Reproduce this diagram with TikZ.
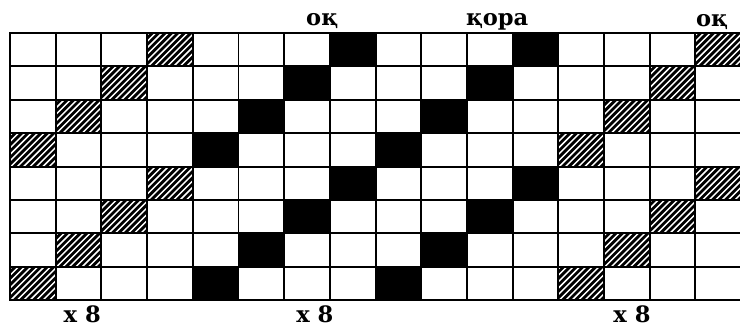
\documentclass[tikz,border=0pt]{standalone}
\usepackage{fontspec}
\setmainfont{DejaVu Serif}
\usetikzlibrary{positioning}

\begin{document}
\begin{tikzpicture}[
    x=1.209cm, y=-0.8837cm,
    font=\fontsize{17}{20}\selectfont\bfseries,
    tor/.style={line width=1.5pt, line cap=rect},
    qara/.style={fill=black},
    jazu/.style={anchor=base, inner sep=0pt}
  ]
    \useasboundingbox (-0.219,-0.988) rectangle (15.974,8.832);
    % kletki: qara and strikh
    \foreach \r in {0,...,7} {
      \pgfmathtruncatemacro{\k}{3-mod(\r,4)}
      \foreach \off in {4,8}
        \fill[qara] ({\k+\off},\r) rectangle ++(1,1);
      \foreach \off in {0,12} {
        \begin{scope}
          \clip ({\k+\off},\r) rectangle ++(1,1);
          \fill[qara] ({\k+\off},\r) rectangle ++(1,1);
          \foreach \d in {-1.0,-0.83,...,1.3}
            \draw[white, line width=1.1pt]
              ([xshift=\d cm]{\k+\off},\r+1) -- ++(1.2cm,1.2cm);
        \end{scope}
      }
    }
    % tor
    \foreach \i in {0,...,16}
      \draw[tor] (\i,0) -- (\i,8);
    \foreach \j in {0,...,8}
      \draw[tor] (0,\j) -- (16,\j);
    % jazu
    \node[jazu] (ok1) at (6.83,-0.22) {оқ};
    \node[jazu] (kora) at (10.66,-0.22) {қора};
    \node[jazu] (ok2) at (15.36,-0.2) {оқ};
    \node[jazu] (x1) at (1.58,8.66) {x 8};
    \node[jazu] (x2) at (6.67,8.66) {x 8};
    \node[jazu] (x3) at (13.61,8.66) {x 8};
  \end{tikzpicture}
\end{document}
